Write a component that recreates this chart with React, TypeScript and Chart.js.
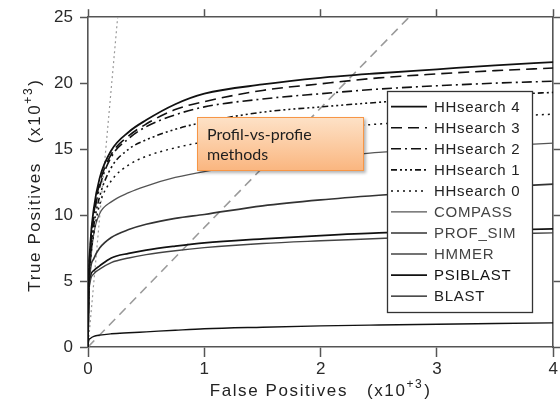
import React, { useEffect, useRef } from 'react';
import { Chart, registerables } from 'chart.js';

Chart.register(...registerables);

// ---- data (x10^3) ----
const FP = [0, 0.005, 0.02, 0.05, 0.1, 0.2, 0.35, 0.5, 0.75, 1, 1.5, 2, 2.5, 3, 3.5, 4];
const HH4 = [0, 4.5, 7.8, 10.5, 12.8, 14.9, 16.3, 17.2, 18.4, 19.2, 19.9, 20.4, 20.75, 21.05, 21.35, 21.6];
const HH3 = [0, 4.3, 7.5, 10.1, 12.4, 14.6, 16.0, 16.9, 18.0, 18.6, 19.45, 19.95, 20.4, 20.7, 20.95, 21.15];
const HH2 = [0, 4.2, 7.2, 9.8, 12.1, 14.4, 15.8, 16.7, 17.6, 18.2, 18.8, 19.2, 19.55, 19.8, 20.0, 20.15];
const HH1 = [0, 4.0, 6.8, 9.2, 11.4, 13.6, 15.0, 15.7, 16.5, 17.05, 17.8, 18.2, 18.55, 18.85, 19.1, 19.3];
const HH0 = [0, 3.8, 6.4, 8.6, 10.8, 12.6, 13.8, 14.45, 15.1, 15.55, 16.2, 16.6, 16.9, 17.2, 17.45, 17.65];
const COMPASS = [0, 3.6, 6.2, 8.6, 10.1, 11.0, 11.7, 12.2, 12.85, 13.3, 13.9, 14.35, 14.75, 15.0, 15.25, 15.45];
const PROF_SIM = [0, 3.5, 5.8, 6.7, 7.5, 8.3, 8.9, 9.3, 9.75, 10.05, 10.7, 11.15, 11.5, 11.8, 12.1, 12.35];
const HMMER = [0, 3.4, 5.0, 5.55, 5.9, 6.4, 6.75, 7.0, 7.3, 7.53, 7.85, 8.05, 8.22, 8.4, 8.55, 8.65];
const PSIBLAST = [0, 3.5, 5.3, 5.8, 6.15, 6.75, 7.1, 7.35, 7.65, 7.9, 8.2, 8.45, 8.65, 8.75, 8.85, 8.95];
const BLAST = [0, 0.45, 0.65, 0.8, 0.9, 1.0, 1.08, 1.15, 1.27, 1.38, 1.5, 1.6, 1.67, 1.73, 1.78, 1.83];

const REF_DOTTED_FP = [0, 0.255];
const REF_DOTTED_TP = [0, 25];
const REF_DASHED_FP = [0, 2.76];
const REF_DASHED_TP = [0, 25];

const SERIES_NAMES = ['HHsearch 4', 'HHsearch 3', 'HHsearch 2', 'HHsearch 1', 'HHsearch 0', 'COMPASS', 'PROF_SIM', 'HMMER', 'PSIBLAST', 'BLAST'];
const SERIES_VALUES = [HH4, HH3, HH2, HH1, HH0, COMPASS, PROF_SIM, HMMER, PSIBLAST, BLAST];

const X_TICK_LABELS = ['0', '1', '2', '3', '4'];
const Y_TICK_LABELS = ['0', '5', '10', '15', '20', '25'];

const X_TITLE = 'False Positives   (x10';
const Y_TITLE = 'True Positives   (x10';
const EXP_TEXT = '+3';
const ANNOTATION_LINES = ['Profil-vs-profie', 'methods'];

// ---- styles ----
const SERIES_STYLES = [
  { color: '#111', width: 1.8, dash: [] as number[], text: '#222' },
  { color: '#111', width: 1.6, dash: [11, 6], text: '#222' },
  { color: '#111', width: 1.6, dash: [10, 4, 2, 4], text: '#222' },
  { color: '#111', width: 1.6, dash: [6, 3, 2, 3, 2, 3, 2, 3], text: '#222' },
  { color: '#111', width: 1.5, dash: [2, 4], text: '#222' },
  { color: '#555', width: 1.3, dash: [], text: '#444' },
  { color: '#333', width: 1.6, dash: [], text: '#444' },
  { color: '#444', width: 1.4, dash: [], text: '#444' },
  { color: '#111', width: 1.7, dash: [], text: '#111' },
  { color: '#111', width: 1.4, dash: [], text: '#222' },
];

const FONT = "'Liberation Sans', Arial, sans-serif";

function drawTitle(ctx: CanvasRenderingContext2D, main: string, sup: string, cx: number, cy: number, rot: number) {
  ctx.save();
  ctx.translate(cx, cy);
  ctx.rotate(rot);
  ctx.fillStyle = '#222';
  ctx.textBaseline = 'alphabetic';
  ctx.textAlign = 'left';
  (ctx as any).letterSpacing = '1.6px';
  ctx.font = `17px ${FONT}`;
  const wMain = ctx.measureText(main).width;
  ctx.font = `12px ${FONT}`;
  const wSup = ctx.measureText(sup).width;
  ctx.font = `17px ${FONT}`;
  const wTail = ctx.measureText(')').width;
  const total = wMain + wSup + wTail + 1;
  let x = -total / 2;
  const base = 6;
  ctx.fillText(main, x, base);
  x += wMain;
  ctx.font = `12px ${FONT}`;
  ctx.fillText(sup, x, base - 8);
  x += wSup + 1;
  ctx.font = `17px ${FONT}`;
  ctx.fillText(')', x, base);
  ctx.restore();
}

const overlayPlugin = {
  id: 'overlay',
  afterDraw(chart: any) {
    const ctx: CanvasRenderingContext2D = chart.ctx;
    const area = chart.chartArea;
    // axis titles
    drawTitle(ctx, X_TITLE, EXP_TEXT, (area.left + area.right) / 2, 390, 0);
    drawTitle(ctx, Y_TITLE, EXP_TEXT, 34, (area.top + area.bottom) / 2 + 3, -Math.PI / 2);

    // legend box
    const bx = 387, by = 91, bw = 145, bh = 221;
    ctx.save();
    ctx.fillStyle = '#fff';
    ctx.fillRect(bx, by, bw, bh);
    ctx.strokeStyle = '#333';
    ctx.lineWidth = 1.3;
    ctx.strokeRect(bx + 0.5, by + 0.5, bw, bh);
    const items = chart.data.datasets.filter((d: any) => d.label);
    items.forEach((ds: any, i: number) => {
      const y = 106.7 + i * 21.05;
      ctx.setLineDash(ds.borderDash || []);
      ctx.strokeStyle = ds.borderColor;
      ctx.lineWidth = ds.borderWidth;
      ctx.beginPath();
      ctx.moveTo(391, y);
      ctx.lineTo(427, y);
      ctx.stroke();
      ctx.setLineDash([]);
      ctx.fillStyle = ds.legendText || '#222';
      ctx.font = `15px ${FONT}`;
      (ctx as any).letterSpacing = '0.7px';
      ctx.textBaseline = 'middle';
      ctx.textAlign = 'left';
      ctx.fillText(ds.label, 434, y + 1);
    });
    ctx.restore();
  },
};

export default function App() {
  const ref = useRef<HTMLCanvasElement | null>(null);

  useEffect(() => {
    document.body.style.margin = '0';
    const canvas = ref.current;
    if (!canvas) return;

    const datasets: any[] = SERIES_NAMES.map((name, i) => ({
      label: name,
      data: FP.map((x, j) => ({ x, y: SERIES_VALUES[i][j] })),
      borderColor: SERIES_STYLES[i].color,
      borderWidth: SERIES_STYLES[i].width,
      borderDash: SERIES_STYLES[i].dash,
      legendText: SERIES_STYLES[i].text,
      pointRadius: 0,
      fill: false,
      cubicInterpolationMode: 'monotone',
    }));
    datasets.push({
      label: '',
      data: REF_DOTTED_FP.map((x, j) => ({ x, y: REF_DOTTED_TP[j] })),
      borderColor: '#999',
      borderWidth: 1.2,
      borderDash: [2, 3],
      pointRadius: 0,
      fill: false,
    });
    datasets.push({
      label: '',
      data: REF_DASHED_FP.map((x, j) => ({ x, y: REF_DASHED_TP[j] })),
      borderColor: '#9a9a9a',
      borderWidth: 1.6,
      borderDash: [9, 6],
      pointRadius: 0,
      fill: false,
    });

    const tickFont = { family: FONT, size: 17 };
    const axisBorder = { color: '#555', width: 1.6 };
    const chart = new Chart(canvas, {
      type: 'line',
      data: { datasets },
      options: {
        responsive: false,
        animation: false,
        events: [],
        layout: { padding: 0 },
        plugins: { legend: { display: false }, tooltip: { enabled: false } },
        scales: {
          x: {
            type: 'linear',
            position: 'bottom',
            min: 0,
            max: 4,
            ticks: {
              stepSize: 1,
              color: '#2a2a2a',
              font: tickFont,
              padding: 2,
              maxRotation: 0,
              callback: (v: any) => X_TICK_LABELS[Math.round(v)] ?? '',
            },
            grid: { drawOnChartArea: false, drawTicks: true, tickLength: 10, tickColor: '#555', tickWidth: 1.5 },
            border: axisBorder,
            afterFit: (s: any) => { s.height = 56; },
          },
          x2: {
            type: 'linear',
            position: 'top',
            min: 0,
            max: 4,
            ticks: { stepSize: 1, display: false },
            grid: { drawOnChartArea: false, drawTicks: true, tickLength: 8, tickColor: '#555', tickWidth: 1.5 },
            border: axisBorder,
            afterFit: (s: any) => { s.height = 15; },
          },
          y: {
            type: 'linear',
            position: 'left',
            min: 0,
            max: 25,
            ticks: {
              stepSize: 5,
              color: '#2a2a2a',
              font: tickFont,
              padding: 7,
              callback: (v: any) => Y_TICK_LABELS[Math.round(v / 5)] ?? '',
            },
            grid: { drawOnChartArea: false, drawTicks: true, tickLength: 8, tickColor: '#555', tickWidth: 1.5 },
            border: axisBorder,
            afterFit: (s: any) => { s.width = 88; },
          },
          y2: {
            type: 'linear',
            position: 'right',
            min: 0,
            max: 25,
            ticks: { stepSize: 5, display: false },
            grid: { drawOnChartArea: false, drawTicks: true, tickLength: 8, tickColor: '#555', tickWidth: 1.5 },
            border: axisBorder,
            afterFit: (s: any) => { s.width = 4; },
          },
        },
      } as any,
      plugins: [overlayPlugin],
    });
    return () => chart.destroy();
  }, []);

  return (
    <div style={{ position: 'fixed', left: 0, top: 0, width: 560, height: 403, overflow: 'hidden', background: '#fff' }}>
      <canvas ref={ref} width={560} height={403} style={{ display: 'block', width: 560, height: 403 }} />
      <div
        style={{
          position: 'absolute',
          left: 197,
          top: 117,
          width: 167,
          height: 54,
          boxSizing: 'border-box',
          border: '1px solid #f79646',
          background: 'linear-gradient(to bottom, #fde1c6 0%, #fccaa0 55%, #fab680 100%)',
          boxShadow: '2px 2px 3px rgba(0,0,0,0.3)',
          padding: '6px 0 0 9px',
          fontFamily: "Lato, 'Open Sans', sans-serif",
          fontSize: 16,
          lineHeight: '20px',
          color: '#1e1e1e',
        }}
      >
        {ANNOTATION_LINES.map((t, i) => (
          <div key={i}>{t}</div>
        ))}
      </div>
    </div>
  );
}
